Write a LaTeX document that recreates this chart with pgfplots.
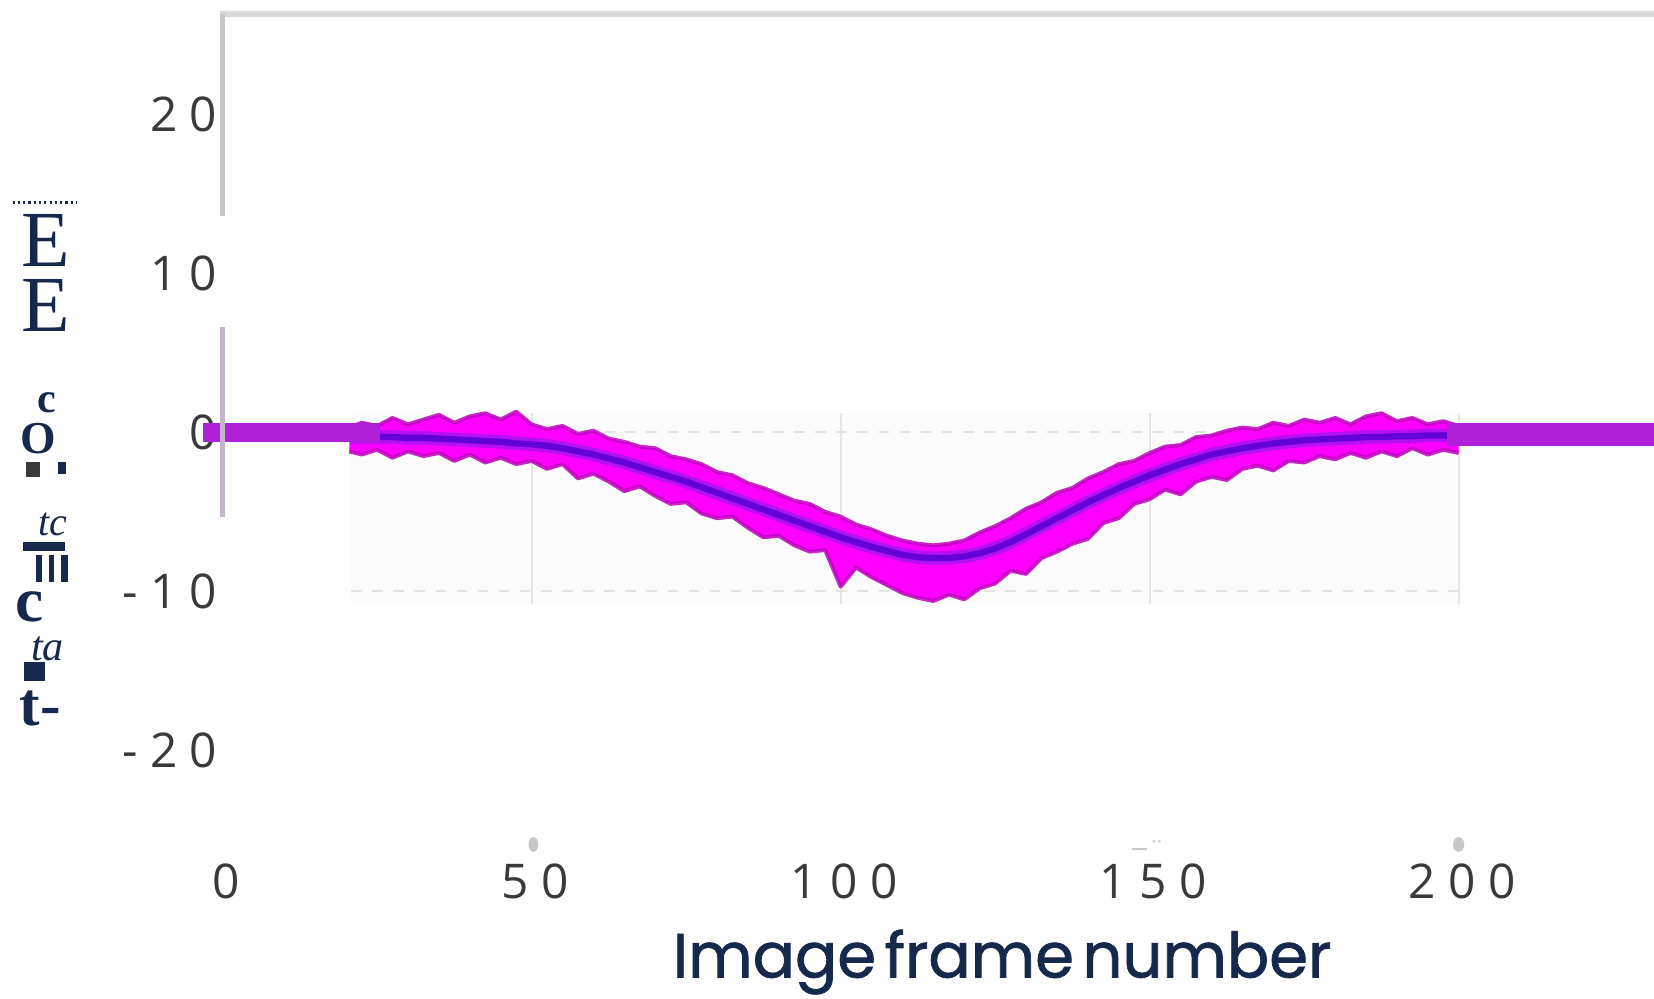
\documentclass[border=0pt]{standalone}
\usepackage{pgfplots}
\pgfplotsset{compat=1.18}
\usepackage{pgfplotstable}
\usepgfplotslibrary{fillbetween}
\usepackage{fontspec}
\setmainfont{Liberation Serif}
\newfontfamily\tickfont[LetterSpace=26]{Open Sans}
\newfontfamily\labfont[WordSpace=0.5, FakeBold=1.2]{Poppins}

\pgfplotsset{
  layers/mine/.define layer set={axis background,axis grid,axis ticks,axis lines,pre main,main,axis tick labels,axis descriptions,axis foreground}{},
}

\definecolor{navy}{HTML}{16284C}
\definecolor{ticktext}{HTML}{3A3A3A}
\definecolor{barcol}{HTML}{B020D8}
\definecolor{bandcol}{HTML}{FF00FF}
\definecolor{bandedge}{HTML}{C000C0}
\definecolor{meancol}{HTML}{6400D8}
\definecolor{meanhalo}{HTML}{9A18F0}
\definecolor{axgray}{HTML}{C8C8C8}
\definecolor{topgray}{HTML}{D9D9D9}
\definecolor{lav}{HTML}{C4B4CC}

% x, mean, upper and lower edge of the band
\pgfplotstableread{
x     m      up    lo
20.5  -0.30   0.3  -1.2
22.5  -0.30   0.6  -1.4
25    -0.30   0.4  -1.1
27.5  -0.30   0.9  -1.6
30    -0.35   0.5  -1.2
32.5  -0.35   0.8  -1.5
35    -0.40   1.1  -1.3
37.5  -0.45   0.6  -1.8
40    -0.50   1.0  -1.4
42.5  -0.55   1.2  -1.9
45    -0.60   0.8  -1.6
47.5  -0.70   1.3  -2.0
50    -0.75   0.5  -1.8
52.5  -0.85   0.2  -2.3
55    -1.00   0.4  -2.0
57.5  -1.20  -0.1  -2.9
60    -1.40   0.1  -2.6
62.5  -1.65  -0.4  -3.1
65    -1.90  -0.6  -3.7
67.5  -2.20  -0.9  -3.4
70    -2.50  -1.0  -4.0
72.5  -2.80  -1.5  -4.5
75    -3.10  -1.7  -4.4
77.5  -3.45  -2.0  -5.1
80    -3.80  -2.5  -5.4
82.5  -4.15  -2.7  -5.3
85    -4.50  -3.2  -6.0
87.5  -4.85  -3.5  -6.6
90    -5.20  -3.9  -6.5
92.5  -5.55  -4.3  -7.1
95    -5.90  -4.5  -7.5
97.5  -6.25  -5.0  -7.4
100   -6.60  -5.3  -9.7
102.5 -6.90  -5.8  -8.5
105   -7.20  -6.1  -9.1
107.5 -7.45  -6.5  -9.6
110   -7.70  -6.8  -10.1
112.5 -7.85  -7.0  -10.4
115   -7.90  -7.1  -10.6
117.5 -7.90  -7.0  -10.2
120   -7.80  -6.8  -10.5
122.5 -7.60  -6.3  -9.8
125   -7.30  -5.9  -9.5
127.5 -6.90  -5.4  -8.7
130   -6.40  -4.8  -8.9
132.5 -5.90  -4.4  -7.9
135   -5.40  -3.8  -7.5
137.5 -4.90  -3.5  -7.0
140   -4.40  -2.9  -6.7
142.5 -3.95  -2.5  -5.7
145   -3.50  -2.0  -5.4
147.5 -3.10  -1.8  -4.5
150   -2.70  -1.3  -4.2
152.5 -2.35  -0.9  -3.6
155   -2.00  -0.8  -3.9
157.5 -1.70  -0.3  -3.1
160   -1.40  -0.2  -2.8
162.5 -1.20   0.1  -3.0
165   -1.00   0.3  -2.3
167.5 -0.85   0.2  -2.1
170   -0.70   0.6  -2.4
172.5 -0.60   0.4  -1.8
175   -0.50   0.8  -1.9
177.5 -0.45   0.6  -1.5
180   -0.40   0.9  -1.7
182.5 -0.35   0.5  -1.3
185   -0.30   1.0  -1.6
187.5 -0.30   1.2  -1.2
190   -0.25   0.7  -1.5
192.5 -0.25   0.9  -1.0
195   -0.20   0.5  -1.4
197.5 -0.20   0.7  -1.1
200   -0.20   0.4  -1.3
}\band

\begin{document}
\begin{tikzpicture}
\begin{axis}[
    set layers=mine,
    at={(63.3pt,-237pt)}, anchor=south west,
    scale only axis, width=407.1pt, height=233.1pt,
    xmin=0, xmax=231.6, ymin=-25.2, ymax=26.3,
    axis line style={draw=none},
    major tick length=0,
    xtick={0,50,...,200},
    ytick={-20,-10,0,10,20},
    clip=false,
    tick label style={font=\tickfont\fontsize{13.6}{15}\selectfont, text=ticktext},
    /pgf/number format/assume math mode=true,
    xticklabel style={yshift=-5pt, xshift=1pt},
    yticklabel style={xshift=2pt},
  ]
  % the pasted inner plot: faint background and grid
  \begin{pgfonlayer}{axis background}
  \fill[gray!3] (axis cs:20.8,1.2) rectangle (axis cs:200,-10.8);
  \draw[gray!20, line width=0.6pt] (axis cs:50,1.2) -- (axis cs:50,-10.8);
  \draw[gray!20, line width=0.6pt] (axis cs:100,1.2) -- (axis cs:100,-10.8);
  \draw[gray!20, line width=0.6pt] (axis cs:150,1.2) -- (axis cs:150,-10.8);
  \draw[gray!20, line width=0.6pt] (axis cs:200,1.2) -- (axis cs:200,-10.8);
  \draw[gray!22, dashed, line width=0.6pt] (axis cs:20.8,0) -- (axis cs:200,0);
  \draw[gray!22, dashed, line width=0.6pt] (axis cs:20.8,-10) -- (axis cs:200,-10);
  \end{pgfonlayer}

  % noisy band
  \addplot[name path=up, draw=none] table[x=x, y=up] {\band};
  \addplot[name path=lo, draw=none] table[x=x, y=lo] {\band};
  \addplot[fill=bandcol, draw=none] fill between[of=up and lo];
  \addplot[bandedge, line width=1.1pt, line join=round, opacity=0.85] table[x=x, y=up] {\band};
  \addplot[bandedge, line width=1.1pt, line join=round, opacity=0.85] table[x=x, y=lo] {\band};

  % mean line
  \addplot[meanhalo, line width=3.8pt, opacity=0.75] table[x=x, y=m] {\band};
  \addplot[meancol, line width=1.8pt] table[x=x, y=m] {\band};

  % thick flat bars
  \addplot[barcol, line width=5.4pt] coordinates {(-3.1,0) (25.4,0)};
  \addplot[barcol, line width=6.6pt] coordinates {(198.1,-0.13) (231.6,-0.13)};

  % axis lines
  \draw[topgray, line width=1.8pt] (axis cs:-0.4,26.3) -- (axis cs:231.6,26.3);
  \draw[axgray, line width=1.2pt] (axis cs:0,26.3) -- (axis cs:0,13.6);
  \draw[lav, line width=1.2pt] (axis cs:0,6.6) -- (axis cs:0,-5.3);

  % tick remnants
  \fill[gray!45] (axis cs:50.3,-25.9) ellipse [x radius=1.4pt, y radius=2.1pt];
  \fill[gray!45] (axis cs:200,-25.9) ellipse [x radius=1.6pt, y radius=2.1pt];
  \draw[gray!45, line width=0.6pt] (axis cs:147.2,-26.2) -- (axis cs:149.5,-26.2);
  \fill[gray!45] (axis cs:150.7,-25.7) circle [radius=0.4pt];
  \fill[gray!45] (axis cs:151.6,-25.7) circle [radius=0.4pt];
\end{axis}

% x label
\node[font=\labfont\fontsize{17.8}{20}\selectfont, text=navy, inner sep=0] at (285pt,-273.6pt) {Image frame number};

% garbled y label
\draw[navy, line width=0.9pt, dash pattern=on 0.6pt off 0.9pt] (3.6pt,-57.6pt) -- (21.9pt,-57.6pt);
\node[text=navy, inner sep=0, font=\fontsize{22.6}{24}\selectfont] at (12.9pt,-68.4pt) {E};
\node[text=navy, inner sep=0, font=\fontsize{22.6}{24}\selectfont] at (12.9pt,-87pt) {E};
\node[text=navy, inner sep=0, font=\bfseries\fontsize{12}{13}\selectfont] at (13.2pt,-114.6pt) {c};
\node[text=navy, inner sep=0, font=\bfseries\fontsize{13}{14}\selectfont] at (10.8pt,-124.8pt) {O};
\fill[ticktext] (7.5pt,-131.4pt) rectangle (11.4pt,-135.6pt);
\fill[navy] (16.5pt,-131.4pt) rectangle (18.9pt,-134.7pt);
\node[text=navy, inner sep=0, font=\itshape\fontsize{11.4}{12}\selectfont] at (15pt,-149.1pt) {tc};
\fill[navy] (6.6pt,-154.2pt) rectangle (18.6pt,-156.6pt);
\fill[navy] (10.2pt,-157.8pt) rectangle (12pt,-165.6pt);
\fill[navy] (13.8pt,-157.8pt) rectangle (15.3pt,-165.6pt);
\fill[navy] (17.4pt,-157.8pt) rectangle (19.2pt,-165.6pt);
\node[text=navy, inner sep=0, font=\bfseries\fontsize{18}{20}\selectfont] at (8.4pt,-172.5pt) {c};
\node[text=navy, inner sep=0, font=\itshape\fontsize{12}{13}\selectfont] at (13.5pt,-184.5pt) {ta};
\fill[navy] (6.9pt,-188.4pt) rectangle (12.9pt,-193.8pt);
\node[text=navy, inner sep=0, font=\bfseries\fontsize{17.5}{19}\selectfont] at (11.4pt,-201.6pt) {t-};

\pgfresetboundingbox
\path (0pt,0pt) rectangle (470.4pt,-284.1pt);
\end{tikzpicture}
\end{document}
